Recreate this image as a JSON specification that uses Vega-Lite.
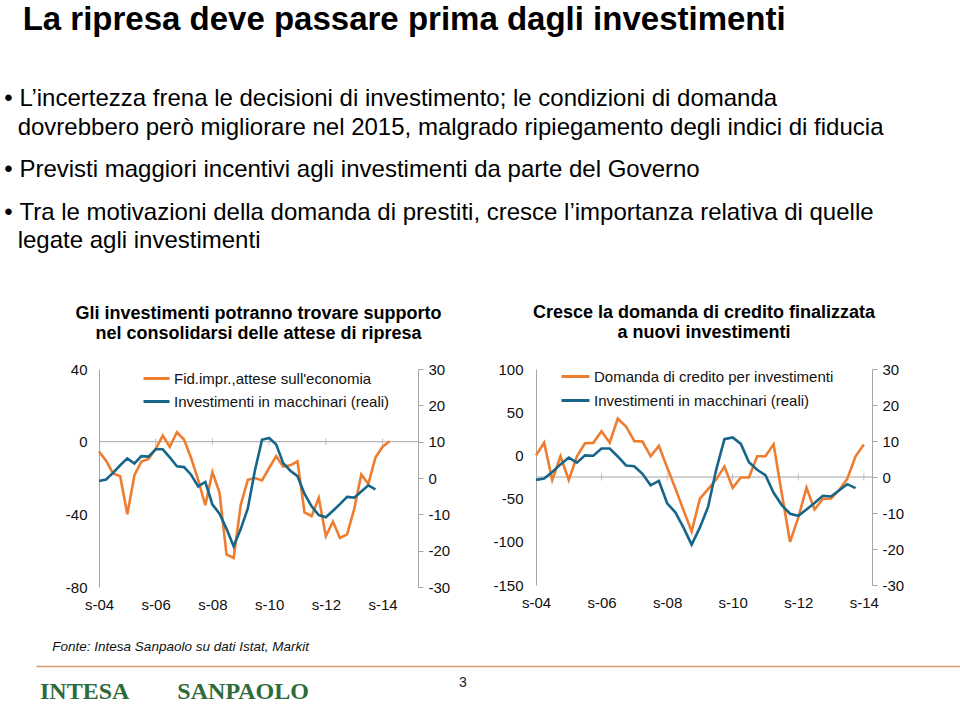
{
  "$schema": "https://vega.github.io/schema/vega-lite/v6.json",
  "background": "white",
  "padding": {"left": 4, "top": 4, "right": 0, "bottom": 0},
  "config": {
    "font": "Liberation Sans",
    "view": {"stroke": null},
    "title": {"font": "Liberation Sans", "color": "#000000", "subtitleFont": "Liberation Sans", "subtitleFontSize": 24, "subtitleColor": "#000000"},
    "axis": {"labelFont": "Liberation Sans", "labelFontSize": 15, "labelColor": "#111111", "grid": false, "domainColor": "#a6a6a6", "tickColor": "#a6a6a6", "title": null},
    "legend": {"labelFont": "Liberation Sans", "labelFontSize": 15, "labelColor": "#111111", "labelLimit": 0}
  },
  "datasets": {
    "ticks": [{"d": "2006-09-01"}, {"d": "2008-09-01"}, {"d": "2010-09-01"}, {"d": "2012-09-01"}, {"d": "2014-09-01"}],
    "fid": [
      {"d": "2004-09-01", "v": -5.5}, {"d": "2004-12-01", "v": -10.5}, {"d": "2005-03-01", "v": -17.5}, {"d": "2005-06-01", "v": -19},
      {"d": "2005-09-01", "v": -40}, {"d": "2005-12-01", "v": -18.5}, {"d": "2006-03-01", "v": -11}, {"d": "2006-06-01", "v": -9.5},
      {"d": "2006-09-01", "v": -4}, {"d": "2006-12-01", "v": 3.3}, {"d": "2007-03-01", "v": -2.8}, {"d": "2007-06-01", "v": 5.2},
      {"d": "2007-09-01", "v": 1.2}, {"d": "2007-12-01", "v": -9}, {"d": "2008-03-01", "v": -21}, {"d": "2008-06-01", "v": -35},
      {"d": "2008-09-01", "v": -16.7}, {"d": "2008-12-01", "v": -28}, {"d": "2009-03-01", "v": -62}, {"d": "2009-06-01", "v": -64},
      {"d": "2009-09-01", "v": -34.6}, {"d": "2009-12-01", "v": -21}, {"d": "2010-03-01", "v": -20}, {"d": "2010-06-01", "v": -21.3},
      {"d": "2010-09-01", "v": -14.5}, {"d": "2010-12-01", "v": -8}, {"d": "2011-03-01", "v": -13.7}, {"d": "2011-06-01", "v": -13},
      {"d": "2011-09-01", "v": -10.8}, {"d": "2011-12-01", "v": -39}, {"d": "2012-03-01", "v": -41}, {"d": "2012-06-01", "v": -31},
      {"d": "2012-09-01", "v": -52}, {"d": "2012-12-01", "v": -44}, {"d": "2013-03-01", "v": -53}, {"d": "2013-06-01", "v": -51},
      {"d": "2013-09-01", "v": -37}, {"d": "2013-12-01", "v": -18}, {"d": "2014-03-01", "v": -23.3}, {"d": "2014-06-01", "v": -8.8},
      {"d": "2014-09-01", "v": -2.8}, {"d": "2014-12-01", "v": 0.2}
    ],
    "dom": [
      {"d": "2004-09-01", "v": 0}, {"d": "2004-12-01", "v": 14.7}, {"d": "2005-03-01", "v": -28.5}, {"d": "2005-06-01", "v": -1},
      {"d": "2005-09-01", "v": -28.5}, {"d": "2005-12-01", "v": -1}, {"d": "2006-03-01", "v": 14}, {"d": "2006-06-01", "v": 14.5},
      {"d": "2006-09-01", "v": 28}, {"d": "2006-12-01", "v": 14.7}, {"d": "2007-03-01", "v": 42.5}, {"d": "2007-06-01", "v": 33.5},
      {"d": "2007-09-01", "v": 16.5}, {"d": "2007-12-01", "v": 16}, {"d": "2008-03-01", "v": -1}, {"d": "2008-06-01", "v": 11},
      {"d": "2008-09-01", "v": -14}, {"d": "2008-12-01", "v": -38}, {"d": "2009-03-01", "v": -63}, {"d": "2009-06-01", "v": -88},
      {"d": "2009-09-01", "v": -50}, {"d": "2009-12-01", "v": -39}, {"d": "2010-03-01", "v": -28}, {"d": "2010-06-01", "v": -13},
      {"d": "2010-09-01", "v": -37.5}, {"d": "2010-12-01", "v": -25.5}, {"d": "2011-03-01", "v": -25.5}, {"d": "2011-06-01", "v": -1},
      {"d": "2011-09-01", "v": -1}, {"d": "2011-12-01", "v": 12.8}, {"d": "2012-03-01", "v": -44}, {"d": "2012-06-01", "v": -100},
      {"d": "2012-09-01", "v": -72}, {"d": "2012-12-01", "v": -37.5}, {"d": "2013-03-01", "v": -62.6}, {"d": "2013-06-01", "v": -50.5},
      {"d": "2013-09-01", "v": -50}, {"d": "2013-12-01", "v": -40}, {"d": "2014-03-01", "v": -27}, {"d": "2014-06-01", "v": -1},
      {"d": "2014-09-01", "v": 12.5}
    ],
    "inv": [
      {"d": "2004-09-01", "v": -0.8}, {"d": "2004-12-01", "v": -0.4}, {"d": "2005-03-01", "v": 1.4}, {"d": "2005-06-01", "v": 3.5},
      {"d": "2005-09-01", "v": 5.4}, {"d": "2005-12-01", "v": 4}, {"d": "2006-03-01", "v": 6}, {"d": "2006-06-01", "v": 5.9},
      {"d": "2006-09-01", "v": 7.9}, {"d": "2006-12-01", "v": 7.9}, {"d": "2007-03-01", "v": 5.7}, {"d": "2007-06-01", "v": 3.2},
      {"d": "2007-09-01", "v": 3}, {"d": "2007-12-01", "v": 0.9}, {"d": "2008-03-01", "v": -2.3}, {"d": "2008-06-01", "v": -1.1},
      {"d": "2008-09-01", "v": -7.3}, {"d": "2008-12-01", "v": -9.8}, {"d": "2009-03-01", "v": -14}, {"d": "2009-06-01", "v": -18.8},
      {"d": "2009-09-01", "v": -14}, {"d": "2009-12-01", "v": -8.3}, {"d": "2010-03-01", "v": 2}, {"d": "2010-06-01", "v": 10.5},
      {"d": "2010-09-01", "v": 11}, {"d": "2010-12-01", "v": 9.2}, {"d": "2011-03-01", "v": 4.1}, {"d": "2011-06-01", "v": 2},
      {"d": "2011-09-01", "v": 0.5}, {"d": "2011-12-01", "v": -4.4}, {"d": "2012-03-01", "v": -7.8}, {"d": "2012-06-01", "v": -10.2},
      {"d": "2012-09-01", "v": -10.8}, {"d": "2012-12-01", "v": -9}, {"d": "2013-03-01", "v": -7.2}, {"d": "2013-06-01", "v": -5.2},
      {"d": "2013-09-01", "v": -5.4}, {"d": "2013-12-01", "v": -3.7}, {"d": "2014-03-01", "v": -2}, {"d": "2014-06-01", "v": -3.1}
    ]
  },
  "title": {
    "text": "\u200b\u00a0\u00a0La ripresa deve passare prima dagli investimenti",
    "subtitle": [
      "•\u00a0L’incertezza frena le decisioni di investimento; le condizioni di domanda",
      "\u200b\u00a0\u00a0dovrebbero però migliorare nel 2015, malgrado ripiegamento degli indici di fiducia"
    ],
    "anchor": "start",
    "dx": 0,
    "fontSize": 33,
    "fontWeight": "bold",
    "color": "#000000",
    "subtitleFont": "Liberation Sans",
    "subtitleFontSize": 24,
    "subtitleColor": "#000000",
    "subtitleLineHeight": 29,
    "subtitlePadding": 50,
    "offset": 18
  },
  "vconcat": [
    {
      "title": {"text": "•\u00a0Previsti maggiori incentivi agli investimenti da parte del Governo", "anchor": "start", "dx": 0, "fontSize": 24, "fontWeight": "normal", "color": "#000000", "offset": 19},
      "vconcat": [
        {
          "title": {"text": ["•\u00a0Tra le motivazioni della domanda di prestiti, cresce l’importanza relativa di quelle", "\u200b\u00a0\u00a0legate agli investimenti"], "anchor": "start", "dx": -32, "fontSize": 24, "fontWeight": "normal", "lineHeight": 28, "color": "#000000", "offset": 51},
          "vconcat": [
            {
              "hconcat": [
                {
                  "width": 319,
                  "height": 218,
                  "title": {"text": ["Gli investimenti potranno trovare supporto", "nel consolidarsi delle attese di ripresa"], "fontSize": 18, "fontWeight": "bold", "lineHeight": 20, "offset": 19},
                  "layer": [
                    {
                      "layer": [
                        {
                          "data": {"values": [{}]},
                          "mark": {"type": "rule", "color": "#a6a6a6", "strokeWidth": 1},
                          "encoding": {"y": {"datum": 0, "type": "quantitative"}}
                        },
                        {
                          "data": {"name": "ticks"},
                          "mark": {"type": "tick", "orient": "vertical", "color": "#a6a6a6", "size": 7, "thickness": 1},
                          "encoding": {"x": {"field": "d", "type": "temporal"}, "y": {"datum": 0, "type": "quantitative"}}
                        },
                        {
                          "data": {"name": "fid"},
                          "mark": {"type": "line", "strokeWidth": 2.6},
                          "encoding": {
                            "x": {"field": "d", "type": "temporal",
                              "scale": {"domain": [{"year": 2004, "month": 9, "date": 1, "utc": true}, {"year": 2015, "month": 12, "date": 1, "utc": true}]},
                              "axis": {"values": [{"year": 2004, "month": 9, "date": 1, "utc": true}, {"year": 2006, "month": 9, "date": 1, "utc": true}, {"year": 2008, "month": 9, "date": 1, "utc": true}, {"year": 2010, "month": 9, "date": 1, "utc": true}, {"year": 2012, "month": 9, "date": 1, "utc": true}, {"year": 2014, "month": 9, "date": 1, "utc": true}],
                                "labelExpr": "'s-' + utcFormat(datum.value, '%y')", "domain": false, "ticks": false, "labelPadding": 10, "labelFlush": false, "labelOverlap": false}},
                            "y": {"field": "v", "type": "quantitative", "scale": {"domain": [-80, 40], "nice": false, "zero": false},
                              "axis": {"values": [-80, -60, -40, -20, 0, 20, 40], "labelExpr": "'' + datum.value", "ticks": false, "labelPadding": 12,
                                "title": "\u00a0", "titleFontSize": 11, "titlePadding": 18}},
                            "color": {"datum": "Fid.impr.,attese sull'economia", "type": "nominal",
                              "scale": {"domain": ["Fid.impr.,attese sull'economia", "Investimenti in macchinari (reali)"], "range": ["#EE7D30", "#17668A"]},
                              "legend": {"orient": "none", "legendX": 43, "legendY": -5, "title": null, "symbolType": "stroke", "symbolSize": 676, "symbolStrokeWidth": 3, "rowPadding": 0, "labelOffset": 3, "labelLimit": 0}}
                          }
                        }
                      ]
                    },
                    {
                      "data": {"name": "inv"},
                      "mark": {"type": "line", "strokeWidth": 2.6},
                      "encoding": {
                        "x": {"field": "d", "type": "temporal"},
                        "y": {"field": "v", "type": "quantitative", "scale": {"domain": [-30, 30], "nice": false, "zero": false},
                          "axis": {"orient": "right", "values": [-30, -20, -10, 0, 10, 20, 30], "labelExpr": "'' + datum.value", "tickSize": 5, "labelPadding": 5}},
                        "color": {"datum": "Investimenti in macchinari (reali)", "type": "nominal"}
                      }
                    }
                  ],
                  "resolve": {"scale": {"y": "independent"}}
                },
                {
                  "width": 336,
                  "height": 216,
                  "title": {"text": ["Cresce la domanda di credito finalizzata", "a nuovi investimenti"], "fontSize": 18, "fontWeight": "bold", "lineHeight": 20, "offset": 19},
                  "layer": [
                    {
                      "layer": [
                        {
                          "data": {"values": [{}]},
                          "mark": {"type": "rule", "color": "#a6a6a6", "strokeWidth": 1},
                          "encoding": {"y": {"datum": -25, "type": "quantitative"}}
                        },
                        {
                          "data": {"name": "ticks"},
                          "mark": {"type": "tick", "orient": "vertical", "color": "#a6a6a6", "size": 7, "thickness": 1},
                          "encoding": {"x": {"field": "d", "type": "temporal"}, "y": {"datum": -25, "type": "quantitative"}}
                        },
                        {
                          "data": {"name": "dom"},
                          "mark": {"type": "line", "strokeWidth": 2.6},
                          "encoding": {
                            "x": {"field": "d", "type": "temporal",
                              "scale": {"domain": [{"year": 2004, "month": 9, "date": 1, "utc": true}, {"year": 2014, "month": 12, "date": 1, "utc": true}]},
                              "axis": {"values": [{"year": 2004, "month": 9, "date": 1, "utc": true}, {"year": 2006, "month": 9, "date": 1, "utc": true}, {"year": 2008, "month": 9, "date": 1, "utc": true}, {"year": 2010, "month": 9, "date": 1, "utc": true}, {"year": 2012, "month": 9, "date": 1, "utc": true}, {"year": 2014, "month": 9, "date": 1, "utc": true}],
                                "labelExpr": "'s-' + utcFormat(datum.value, '%y')", "domain": false, "ticks": false, "labelPadding": 10, "labelFlush": false, "labelOverlap": false}},
                            "y": {"field": "v", "type": "quantitative", "scale": {"domain": [-150, 100], "nice": false, "zero": false},
                              "axis": {"values": [-150, -100, -50, 0, 50, 100], "labelExpr": "'' + datum.value", "ticks": false, "labelPadding": 13}},
                            "color": {"datum": "Domanda di credito per investimenti", "type": "nominal",
                              "scale": {"domain": ["Domanda di credito per investimenti", "Investimenti in macchinari (reali)"], "range": ["#EE7D30", "#17668A"]},
                              "legend": {"orient": "none", "legendX": 24, "legendY": -8, "title": null, "symbolType": "stroke", "symbolSize": 784, "symbolStrokeWidth": 3, "rowPadding": 0, "labelOffset": 3, "labelLimit": 0}}
                          }
                        }
                      ]
                    },
                    {
                      "data": {"name": "inv"},
                      "mark": {"type": "line", "strokeWidth": 2.6},
                      "encoding": {
                        "x": {"field": "d", "type": "temporal"},
                        "y": {"field": "v", "type": "quantitative", "scale": {"domain": [-30, 30], "nice": false, "zero": false},
                          "axis": {"orient": "right", "values": [-30, -20, -10, 0, 10, 20, 30], "labelExpr": "'' + datum.value", "tickSize": 5, "labelPadding": 5}},
                        "color": {"datum": "Investimenti in macchinari (reali)", "type": "nominal"}
                      }
                    }
                  ],
                  "resolve": {"scale": {"y": "independent"}}
                }
              ],
              "spacing": 42,
              "resolve": {"scale": {"color": "independent"}, "legend": {"color": "independent"}},
              "title": {"text": "Fonte: Intesa Sanpaolo su dati Istat, Markit", "orient": "bottom", "anchor": "start", "dx": 16, "fontSize": 13.5, "fontStyle": "italic", "fontWeight": "normal", "color": "#111111", "offset": 28}
            }
          ]
        }
      ]
    },
    {
      "width": 861,
      "height": 34,
      "data": {"values": [{"page": "3"}]},
      "mark": {"type": "text", "fontSize": 14, "dx": -35, "color": "#222222"},
      "encoding": {
        "x": {"field": "page", "type": "nominal", "scale": {"range": [-63, 861]}, "axis": {"orient": "top", "domainColor": "#D89B6E", "domainWidth": 1.5, "labels": false, "ticks": false, "title": null}},
        "text": {"field": "page"}
      },
      "title": {"text": "INTESA\u2003\u2003SANPAOLO", "orient": "bottom", "anchor": "start", "frame": "group", "dx": -59, "font": "Liberation Serif", "fontSize": 24, "fontWeight": "bold", "color": "#2E6B3A", "offset": -20}
    }
  ],
  "spacing": 12
}
